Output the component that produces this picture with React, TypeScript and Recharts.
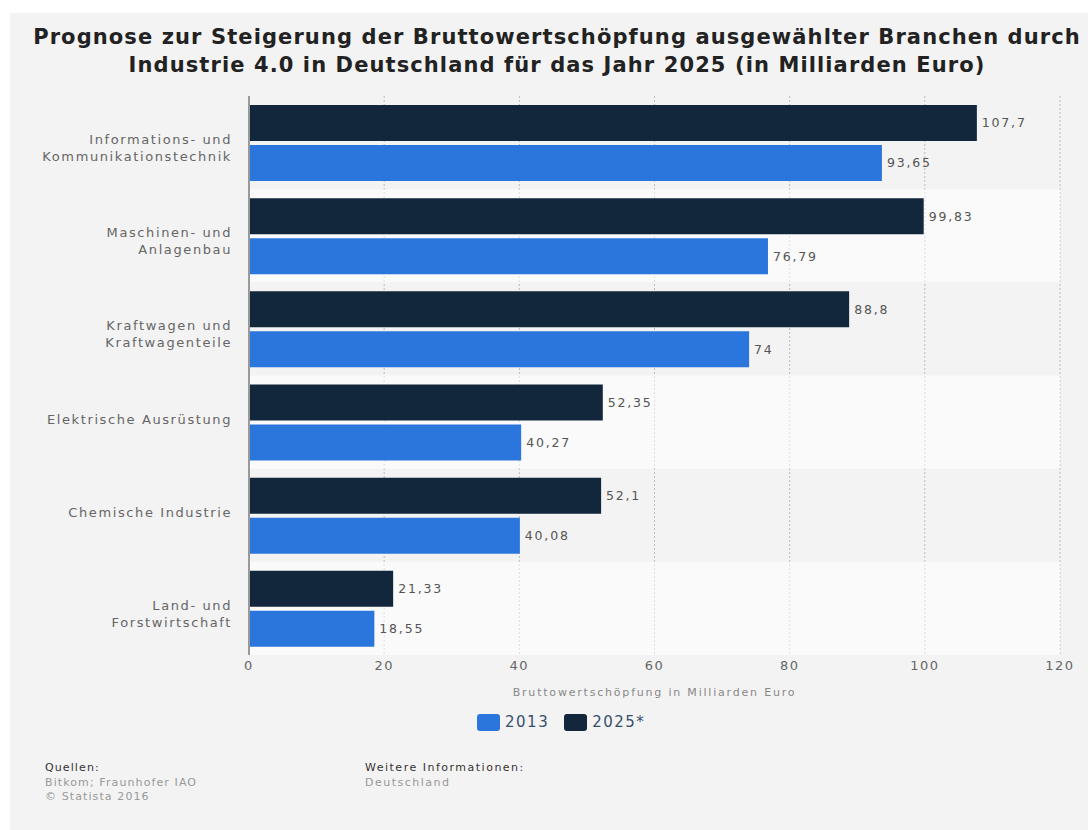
import React from 'react';
import {
  BarChart,
  Bar,
  XAxis,
  YAxis,
  CartesianGrid,
  ReferenceArea,
  LabelList,
} from 'recharts';

const categories = [
  'Informations- und\nKommunikationstechnik',
  'Maschinen- und\nAnlagenbau',
  'Kraftwagen und\nKraftwagenteile',
  'Elektrische Ausrüstung',
  'Chemische Industrie',
  'Land- und\nForstwirtschaft',
];
const values2013 = [93.65, 76.79, 74, 40.27, 40.08, 18.55];
const values2025 = [107.7, 99.83, 88.8, 52.35, 52.1, 21.33];
const xTicks = [0, 20, 40, 60, 80, 100, 120];

const BLUE = '#2a76dd';
const NAVY = '#12263c';
const FONT = '"DejaVu Sans", sans-serif';

const data = categories.map((name, i) => ({
  name,
  y2013: values2013[i],
  y2025: values2025[i],
}));

const fmt = (v: any) => String(v).replace('.', ',');

const CategoryTick = (props: any) => {
  const { x, y, payload } = props;
  const lines = String(payload.value).split('\n');
  return (
    <text
      x={x - 9}
      y={y - 3}
      textAnchor="end"
      fill="#666"
      fontSize={13}
      fontFamily={FONT}
      letterSpacing={1.6}
    >
      {lines.map((l, i) => (
        <tspan key={i} x={x - 9} dy={i === 0 ? 4.5 : 17}>
          {l}
        </tspan>
      ))}
    </text>
  );
};

const App = () => {
  return (
    <div
      style={{
        position: 'fixed',
        left: 0,
        top: 0,
        width: 1088,
        height: 830,
        overflow: 'hidden',
        background: '#fff',
        fontFamily: FONT,
      }}
    >
      <div style={{ position: 'absolute', left: 10, top: 13, right: 0, bottom: 0, background: '#f3f3f3' }} />
      <div
        style={{
          position: 'absolute',
          left: 12,
          top: 23,
          width: 1090,
          textAlign: 'center',
          whiteSpace: 'nowrap',
          fontWeight: 'bold',
          fontSize: 21,
          letterSpacing: 1.1,
          lineHeight: '28px',
          color: '#222',
        }}
      >
        Prognose zur Steigerung der Bruttowertschöpfung ausgewählter Branchen durch
        <br />
        Industrie 4.0 in Deutschland für das Jahr 2025 (in Milliarden Euro)
      </div>

      <div style={{ position: 'absolute', left: 0, top: 0 }}>
        <BarChart
          width={1088}
          height={700}
          data={data}
          layout="vertical"
          margin={{ top: 96, right: 28, left: 0, bottom: 0 }}
          barSize={36}
          barGap={4}
        >
          <CartesianGrid horizontal={false} stroke="#bbb" strokeDasharray="2 2" />
          {categories.map((c, i) =>
            i % 2 === 1 ? (
              <ReferenceArea
                key={c}
                y1={c}
                y2={c}
                fill="#ffffff"
                fillOpacity={0.55}
                stroke="none"
              />
            ) : null
          )}
          <XAxis
            type="number"
            domain={[0, 120]}
            ticks={xTicks}
            axisLine={false}
            tickLine={false}
            tickMargin={0}
            height={45}
            tick={{ fill: '#666', fontSize: 13, fontFamily: FONT, letterSpacing: 1.5 }}
            label={{
              value: 'Bruttowertschöpfung in Milliarden Euro',
              position: 'insideBottom',
              offset: 4,
              fill: '#888',
              fontSize: 11,
              fontFamily: FONT,
              letterSpacing: 1.8,
            }}
          />
          <YAxis
            type="category"
            dataKey="name"
            width={249}
            axisLine={{ stroke: '#999', strokeWidth: 2 }}
            tickLine={false}
            tick={<CategoryTick />}
            interval={0}
          />
          <Bar dataKey="y2025" name="2025*" fill={NAVY} isAnimationActive={false}>
            <LabelList
              dataKey="y2025"
              position="right"
              offset={5}
              formatter={fmt}
              fill="#555"
              fontSize={12.5}
              fontFamily={FONT}
              letterSpacing={1.8}
            />
          </Bar>
          <Bar dataKey="y2013" name="2013" fill={BLUE} isAnimationActive={false}>
            <LabelList
              dataKey="y2013"
              position="right"
              offset={5}
              formatter={fmt}
              fill="#555"
              fontSize={12.5}
              fontFamily={FONT}
              letterSpacing={1.8}
            />
          </Bar>
        </BarChart>
      </div>

      <div
        style={{
          position: 'absolute',
          left: 477,
          top: 712,
          display: 'flex',
          alignItems: 'center',
          fontSize: 15,
          letterSpacing: 1.5,
          color: '#35506e',
          lineHeight: '20px',
        }}
      >
        <span style={{ width: 23, height: 17, borderRadius: 3, background: BLUE, display: 'inline-block' }} />
        <span style={{ marginLeft: 5, marginRight: 15 }}>2013</span>
        <span style={{ width: 23, height: 17, borderRadius: 3, background: NAVY, display: 'inline-block' }} />
        <span style={{ marginLeft: 5 }}>2025*</span>
      </div>

      <div style={{ position: 'absolute', left: 45, top: 761, fontSize: 11, lineHeight: '14.5px', letterSpacing: 1.1 }}>
        <div style={{ color: '#333' }}>Quellen:</div>
        <div style={{ color: '#999' }}>Bitkom; Fraunhofer IAO</div>
        <div style={{ color: '#999' }}>© Statista 2016</div>
      </div>
      <div style={{ position: 'absolute', left: 365, top: 761, fontSize: 11, lineHeight: '14.5px', letterSpacing: 1.5 }}>
        <div style={{ color: '#333' }}>Weitere Informationen:</div>
        <div style={{ color: '#999' }}>Deutschland</div>
      </div>
    </div>
  );
};

export default App;
